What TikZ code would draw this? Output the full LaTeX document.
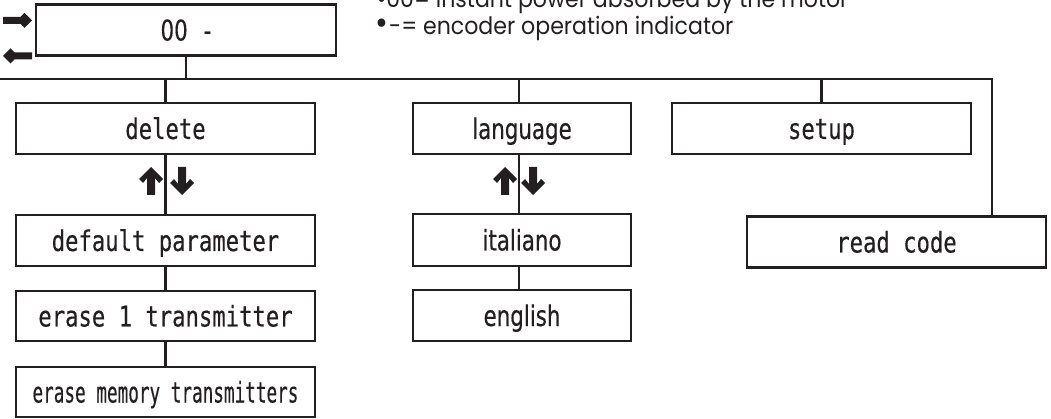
\documentclass[tikz,border=0pt]{standalone}
\usepackage{fontspec}
\newfontfamily\monofont[FakeStretch=0.78,FakeBold=0.4]{DejaVu Sans Mono}
\newfontfamily\narrowmono[FakeStretch=0.62,FakeBold=0.4]{DejaVu Sans Mono}
\newfontfamily\propfont[FakeStretch=0.75,FakeBold=0.4]{DejaVu Sans}
\newfontfamily\notefont[FakeStretch=0.92]{Poppins}
\definecolor{ink}{HTML}{231F20}
\tikzset{
  menubox/.style={draw=ink, line width=2.5pt, minimum height=51pt, inner sep=0pt,
    text height=21pt, text depth=0pt, text=ink,
    font=\monofont\fontsize{28.5}{30}\selectfont},
  propbox/.style={menubox, font=\propfont\fontsize{28.5}{30}\selectfont},
  link/.style={draw=ink, line width=2.5pt},
  note/.style={anchor=base west, inner sep=0pt, text=ink,
    font=\notefont\fontsize{24}{26}\selectfont},
  fatarrow/.pic={\fill[ink] (0,-14) -- (12,-2) -- (8,2) -- (4,-3) -- (4,14)
      -- (-4,14) -- (-4,-3) -- (-8,2) -- (-12,-2) -- cycle;},
  sidearrow/.pic={\fill[ink] (0,-14.5) -- (7.5,-7) -- (3.5,-3) -- (3.5,14.5)
      -- (-3.5,14.5) -- (-3.5,-3) -- (-7.5,-7) -- cycle;}
}
\begin{document}
\begin{tikzpicture}[x=1pt,y=-1pt]
\useasboundingbox (0,0) rectangle (1051,419);

% display line and its notes
\node[propbox, minimum width=300pt] (top) at (186,30) {00\hspace{16pt}-};
\node[note] (n1) at (377,8) {\textbullet00= instant power absorbed by the motor};
\node[note] (n2) at (375,35) {{\fontsize{34}{34}\selectfont\textbullet}\kern1pt-= encoder operation indicator};
\pic[rotate=-90] at (17.5,20.5) {sidearrow};
\pic[rotate=90] at (17.5,56) {sidearrow};

% main menu bus
\coordinate (busL) at (0,79);
\coordinate (busR) at (992,79);

% first level
\node[menubox, minimum width=299pt] (del) at (165.5,128.5) {delete};
\node[propbox, minimum width=218pt] (lang) at (522,128.5) {language};
\node[menubox, minimum width=299pt] (set) at (821.5,128.5) {setup};
\node[menubox, minimum width=299pt] (rc) at (896.5,242) {read code};

% delete branch
\node[menubox, minimum width=299pt] (dp) at (165.5,240.5) {default parameter};
\node[menubox, minimum width=299pt, minimum height=50pt] (e1) at (165.5,316) {erase 1 transmitter};
\node[menubox, minimum width=299pt, minimum height=50pt,
      font=\narrowmono\fontsize{28.5}{30}\selectfont] (em) at (165.5,392) {erase memory transmitters};

% language branch
\node[propbox, minimum width=218pt, minimum height=52pt] (it) at (522,240) {italiano};
\node[propbox, minimum width=218pt] (en) at (522,315.5) {english};

% connectors
\coordinate (langx) at (519,0);
\draw[link] (busL) -- (busR) -- (busR |- rc.north);
\draw[link] (top.south) -- (top.south |- busL);
\draw[link] (del.north |- busL) -- (del.north);
\draw[link] (langx |- busL) -- (langx |- lang.north);
\draw[link] (set.north |- busL) -- (set.north);
\draw[link] (del.south) -- (dp.north);
\draw[link] (dp.south) -- (e1.north);
\draw[link] (e1.south) -- (em.north);
\draw[link] (langx |- lang.south) -- (langx |- it.north);
\draw[link] (langx |- it.south) -- (langx |- en.north);

% scroll arrows
\pic at (151,181) {fatarrow};
\pic[rotate=180] at (182,181) {fatarrow};
\pic at (505,181) {fatarrow};
\pic[rotate=180] at (533,181) {fatarrow};
\end{tikzpicture}
\end{document}
